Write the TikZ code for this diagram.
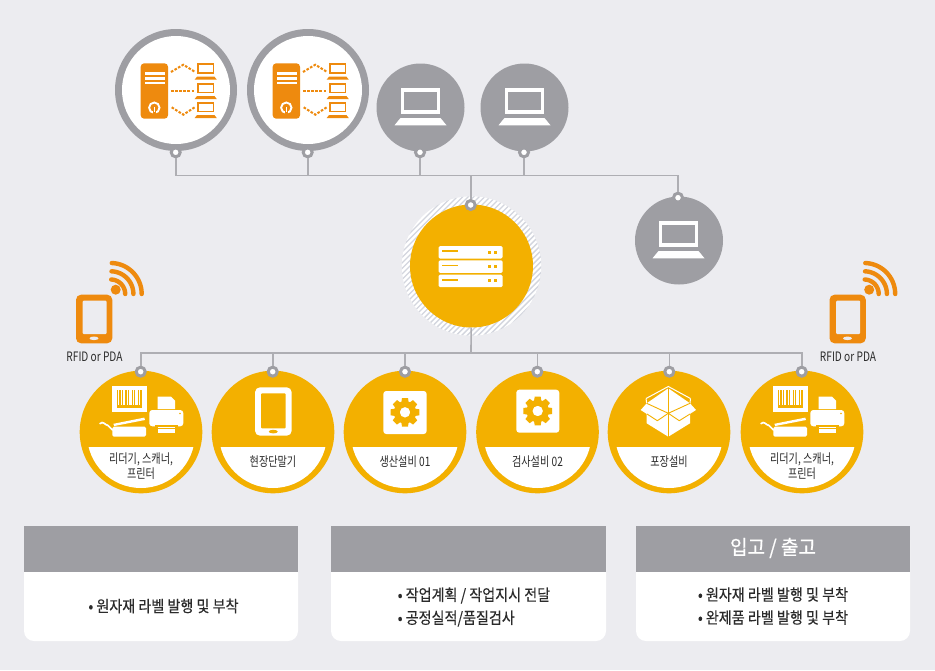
\documentclass[tikz,border=0pt]{standalone}
\usepackage{fontspec}
\setmainfont{Noto Sans CJK KR}
\newfontfamily\krsmall[FakeStretch=0.78]{Noto Sans CJK KR}
\newfontfamily\krcard[FakeStretch=0.88,FakeBold=0.2]{Noto Sans CJK KR}
\newfontfamily\krhead[FakeStretch=0.95,FakeBold=0.7]{Noto Sans CJK KR}
\definecolor{bg}{HTML}{ECECF0}
\definecolor{orangeK}{HTML}{EE8A0E}
\definecolor{yellowK}{HTML}{F3B000}
\definecolor{greyK}{HTML}{9E9EA3}
\definecolor{wireK}{HTML}{AEAEB3}
\definecolor{hatchK}{HTML}{D3D6DE}
\definecolor{textK}{HTML}{2B2B2B}
\tikzset{
  disc/.style={circle,inner sep=0pt,minimum size=#1},
  portK/.style={circle,inner sep=0pt,minimum size=9pt,draw=greyK,line width=3pt,fill=white},
  wire/.style={draw=wireK,line width=1.6pt},
  small/.style={font=\krsmall\fontsize{13}{15.5}\selectfont,text=textK,align=center,inner sep=0pt},
  cardtext/.style={font=\krcard\fontsize{16}{23}\selectfont,text=textK,align=left,inner sep=0pt},
  headtext/.style={font=\krhead\fontsize{20}{23}\selectfont,text=white,inner sep=0pt},
  dots/.style={orangeK,line width=2pt,dash pattern=on 2.6pt off 1.5pt},
  pics/lapW/.style={code={
    \draw[white,line width=3.6pt] (-18,-17.7) rectangle (18,4.6);
    \fill[white] (-20,10.5) -- (20,10.5) -- (26,17.8) -- (-26,17.8) -- cycle;
  }},
  pics/lapO/.style={code={
    \draw[orangeK,line width=1.8pt] (197.6,0.9) rectangle (213.4,9.8);
    \fill[orangeK] (197,13.4) -- (214.5,13.4) -- (216.8,16.4) -- (194.6,16.4) -- cycle;
  }},
  pics/cluster/.style={code={
    \fill[orangeK,rounded corners=3.5pt] (140.7,63.3) rectangle (168,118.7);
    \foreach \yy in {72.3,77,81.7} \fill[white] (145.3,\yy) rectangle (164.7,\yy+2.6);
    \draw[white,line width=1.9pt] (154.3,107.7) circle[radius=5.2];
    \fill[orangeK] (152.6,110) rectangle (156,114.5);
    \draw[white,line width=1.5pt] (154.3,106.8) -- (154.3,112);
    \pic at (0,63.3) {lapO};
    \pic at (0,82.7) {lapO};
    \pic at (0,101.7) {lapO};
    \draw[dots] (171,72) -- (183.3,64.7) -- (194.7,71.7);
    \draw[dots] (171,90.5) -- (194,90.5);
    \draw[dots] (171.7,107.3) -- (183.3,114.7) -- (194.7,107.3);
  }},
  pics/handheld/.style={code={
    \fill[orangeK,rounded corners=5pt] (76,294.7) rectangle (112.3,343.3);
    \fill[bg,rounded corners=1pt] (82.7,300.7) rectangle (106.7,334);
    \fill[bg] (94,338.3) ellipse[x radius=4.5,y radius=1.8];
    \fill[orangeK] (115.7,289.7) circle[radius=5];
    \foreach \rr in {14.5,22.7,31}
      \draw[orangeK,line width=4.4pt,line cap=round] plot[domain=0:88,samples=24] ({110.7+\rr*cos(\x)},{294-\rr*sin(\x)});
  }},
  pics/chord/.style={code={
    \begin{scope}
      \clip (81,447) rectangle (201,500);
      \fill[white] (141,434) circle[radius=54];
    \end{scope}
  }},
  pics/reader/.style={code={
    \fill[white] (111.7,386) rectangle (146.7,412.3);
    \fill[yellowK] (116.7,390) rectangle (142.3,408.3);
    \foreach \xx/\ww in {118/1.3,120.6/1.3,123/2.4,126.6/1.3,129.2/2.4,132.8/1.3,135.4/2.4,139/1.3}
      \fill[white] (\xx,390) rectangle (\xx+\ww,404.5);
    \fill[white,rounded corners=1.5pt] (112.3,426.7) rectangle (146,436.7);
    \fill[white] (113.3,423.8) -- (144.3,417.6) -- (145,420) -- (114.3,426) -- cycle;
    \draw[white,line width=1.7pt,line cap=round] (100,423.6) .. controls (103,420.5) and (105,425) .. (108,425.5) .. controls (110,426) and (110,429) .. (112.5,430);
    \fill[white] (157.7,396.7) -- (171,396.7) -- (175,400.7) -- (175,409) -- (157.7,409) -- cycle;
    \fill[white,rounded corners=3pt] (149.3,410) rectangle (183.3,426.3);
    \fill[yellowK] (180,413.5) circle[radius=0.9];
    \fill[yellowK] (155,425) rectangle (177.5,426.5);
    \fill[white] (157.7,426.7) rectangle (175,432.7);
    \fill[yellowK] (157.7,427.5) rectangle (175,428.4);
  }},
  pics/gearK/.style={code={
    \foreach \a in {0,45,...,315}
      \fill[yellowK,rotate=\a] (-3,-14.3) -- (3,-14.3) -- (3.8,-9) -- (-3.8,-9) -- cycle;
    \fill[yellowK,even odd rule] (0,0) circle[radius=11.2] (0,0) circle[radius=5.3];
  }},
}
\begin{document}
\begin{tikzpicture}[x=1pt,y=-1pt]
\useasboundingbox (0,0) rectangle (935,670);
\fill[bg] (0,0) rectangle (935,670);

% upper row
\node[disc=122pt,fill=greyK] (ringA) at (176,90) {};
\node[disc=108pt,fill=white] (innerA) at (176,90) {};
\node[disc=122pt,fill=greyK] (ringB) at (308,90) {};
\node[disc=108pt,fill=white] (innerB) at (308,90) {};
\pic at (0,0) {cluster};
\pic at (132,0) {cluster};
\node[disc=88pt,fill=greyK] (lapA) at (420.5,107.5) {};
\node[disc=88pt,fill=greyK] (lapB) at (524.5,107.5) {};
\node[disc=88pt,fill=greyK] (lapC) at (679,240.5) {};
\pic at (420.5,107.5) {lapW};
\pic at (524.5,107.5) {lapW};
\pic at (678.5,240.5) {lapW};

% central server
\begin{scope}
  \clip (471.5,266) circle[radius=69.7];
  \fill[white] (471.5,266) circle[radius=69.7];
  \foreach \k in {-100,-94.5,...,100}
    \draw[hatchK,line width=1.4pt] (471.5+\k-80,266+80) -- (471.5+\k+80,266-80);
\end{scope}
\node[disc=123pt,fill=yellowK] (center) at (471.5,266) {};
\foreach \yy in {246,260.3,274.7} {
  \fill[white,rounded corners=1.5pt] (438.5,\yy) rectangle (502.7,\yy+12.5);
  \fill[yellowK] (442.3,\yy+4.2) rectangle (457.7,\yy+6);
  \fill[yellowK] (488,\yy+4.6) rectangle (491.3,\yy+7.6);
  \fill[yellowK] (493.5,\yy+4.6) rectangle (496.8,\yy+7.6);
}

% lower row
\foreach \nm/\xx in {devA/141,devB/273,devC/405,devD/537.5,devE/669,devF/802} {
  \node[disc=122.6pt,fill=yellowK] (\nm) at (\xx,432) {};
  \pic at (\xx-141,0) {chord};
}
\pic at (0,0) {reader};
\pic at (661,0) {reader};

% field terminal
\fill[white,rounded corners=5pt] (255,387.3) rectangle (291.7,435.7);
\fill[yellowK,rounded corners=1pt] (261,393.3) rectangle (285.7,428.3);
\fill[yellowK] (273.3,431.6) ellipse[x radius=4.5,y radius=1.8];

% gears
\fill[white,rounded corners=3pt] (383.3,391) rectangle (426.7,434);
\pic at (405,412.3) {gearK};
\fill[white,rounded corners=3pt] (516.3,389.7) rectangle (559.3,432.7);
\pic at (537.7,411) {gearK};

% packing box
\fill[white] (646.7,408) -- (668.3,414) -- (690,408) -- (690,423.3) -- (668.3,436.7) -- (646.7,423.3) -- cycle;
\fill[white] (646.7,403.3) -- (668.3,388.3) -- (690,403.3) -- (668.3,413.3) -- cycle;
\draw[white,line width=1pt] (646,398.5) -- (668.3,386.5) -- (690.5,398.5);
\draw[white,line width=1pt] (646,398.5) -- (646.7,403.3) (690.5,398.5) -- (690,403.3);
\fill[white] (646.7,403.3) -- (668.3,413.3) -- (657.3,420.7) -- (640.7,410) -- cycle;
\fill[white] (690,403.3) -- (668.3,413.3) -- (679.3,420.7) -- (696,410) -- cycle;
\draw[yellowK,line width=.7pt] (668.3,388.3) -- (668.3,436.7);
\draw[yellowK,line width=.9pt] (646.7,403.3) -- (668.3,413.3) -- (690,403.3);
\draw[yellowK,line width=.9pt] (668.3,413.3) -- (657.3,420.7) -- (647,414);
\draw[yellowK,line width=.9pt] (668.3,413.3) -- (679.3,420.7) -- (690,414);

% handhelds
\pic at (0,0) {handheld};
\pic at (753.5,0) {handheld};
\node[small] (rfidA) at (94.5,357) {RFID or PDA};
\node[small] (rfidB) at (848,357) {RFID or PDA};

% labels of the lower row
\node[small] (labA) at (141,466) {리더기, 스캐너,\\프린터};
\node[small] (labB) at (273,462) {현장단말기};
\node[small] (labC) at (405,462) {생산설비 01};
\node[small] (labD) at (537.5,462) {검사설비 02};
\node[small] (labE) at (669,462) {포장설비};
\node[small] (labF) at (802,466) {리더기, 스캐너,\\프린터};

% ports
\node[portK] (pA) at (175.7,152.3) {};
\node[portK] (pB) at (307.7,152.3) {};
\node[portK] (pC) at (420,152.3) {};
\node[portK] (pD) at (524,152.3) {};
\node[portK] (pE) at (678,197.7) {};
\node[portK] (pS) at (470.7,205) {};
\foreach \nm/\xx in {qA/140.7,qB/272.7,qC/405,qD/537.3,qE/669.3,qF/801.7}
  \node[portK] (\nm) at (\xx,371.7) {};

% connectors
\coordinate (busT) at (470.7,175.5);
\coordinate (busB) at (471,352.7);
\draw[wire] (pA) |- (busT);
\draw[wire] (pB) |- (busT);
\draw[wire] (pC) |- (busT);
\draw[wire] (pD) |- (busT);
\draw[wire] (pE) |- (busT);
\draw[wire] (pS) -- (busT);
\draw[wire] (center) -- (busB);
\foreach \nm in {qA,qB,qC,qD,qE,qF}
  \draw[wire] (\nm) |- (busB);

% cards
\foreach \xa/\xb/\nm in {24/298/cardA,331/606/cardB,636/910/cardC} {
  \fill[white,rounded corners=10pt] (\xa,530) rectangle (\xb,641);
  \node[fill=greyK,inner sep=0pt,minimum width=\xb pt-\xa pt,minimum height=46pt,anchor=north west] (\nm) at (\xa,526) {};
}
\node[headtext] (headC) at (773,548) {입고 / 출고};
\node[cardtext] (bodyA) at (163.5,606) {• 원자재 라벨 발행 및 부착};
\node[cardtext] (bodyB) at (474,607) {• 작업계획 / 작업지시 전달\\• 공정실적/품질검사};
\node[cardtext] (bodyC) at (773,606) {• 원자재 라벨 발행 및 부착\\• 완제품 라벨 발행 및 부착};
\end{tikzpicture}
\end{document}
